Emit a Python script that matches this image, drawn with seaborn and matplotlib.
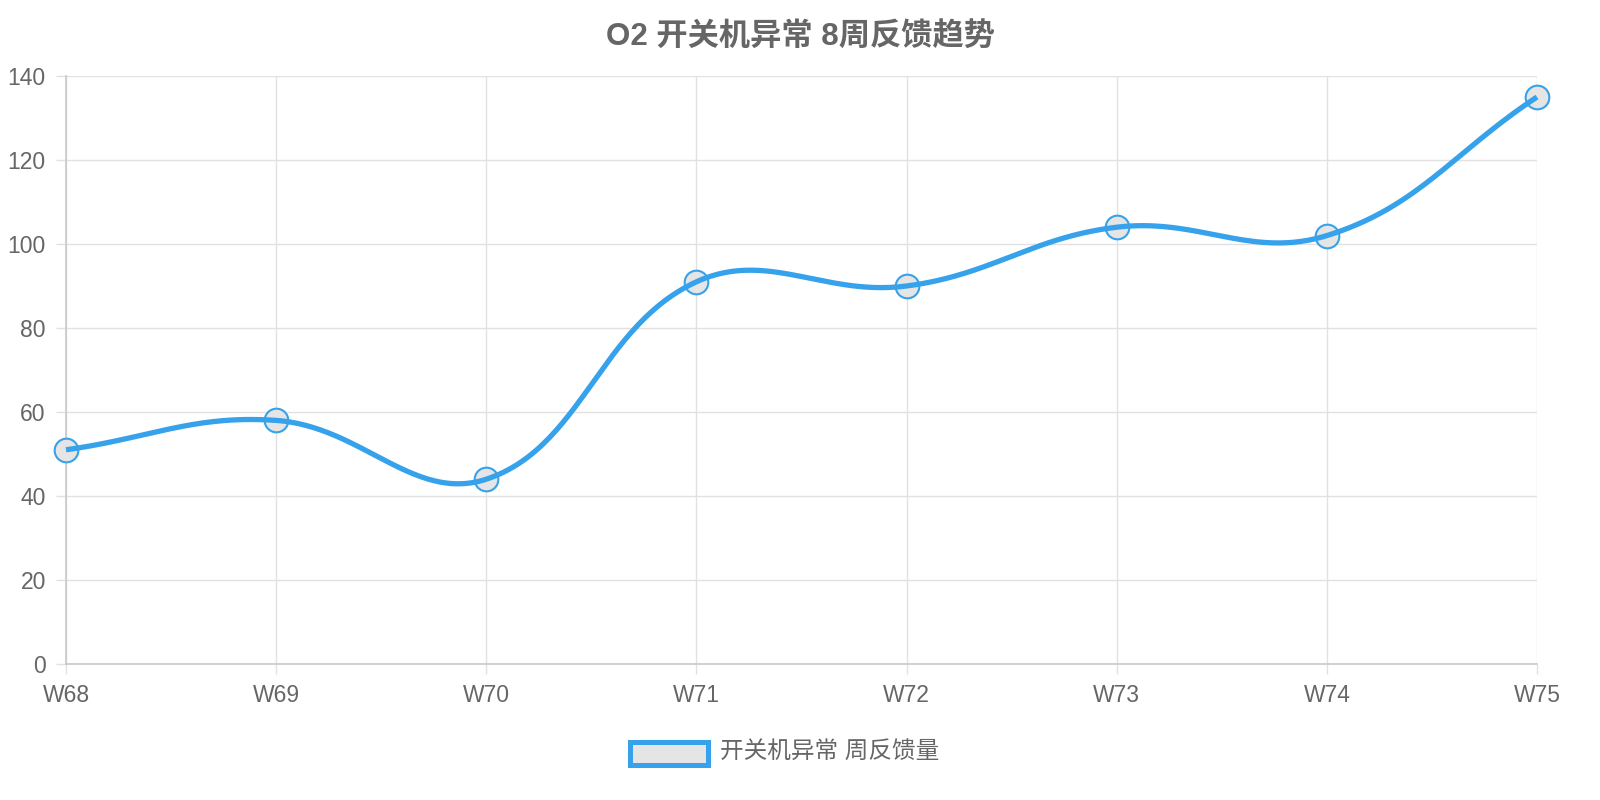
import numpy as np
import pandas as pd
import matplotlib
matplotlib.use("Agg")
import matplotlib.pyplot as plt
import seaborn as sns
from matplotlib.patches import Rectangle

# ==========================================
# DATA
# ==========================================

weeks = ["W68", "W69", "W70", "W71", "W72", "W73", "W74", "W75"]
feedback = [51, 58, 44, 91, 90, 104, 102, 135]

title = "O2 开关机异常 8周反馈趋势"
series_name = "开关机异常 周反馈量"

BLUE = "#36a2eb"
TEXT = "#666666"
GRID = "#e1e1e1"

# ==========================================
# STYLE
# ==========================================

sns.set_style("white")
plt.rcParams["font.family"] = ["Liberation Sans", "Noto Sans CJK SC", "DejaVu Sans"]

fig = plt.figure(figsize=(16, 8), dpi=100)
ax = fig.add_axes([66 / 1600, 1 - 664 / 800, (1537 - 66) / 1600, (664 - 76) / 800])

ymin, ymax = 0, 140
ax.set_xlim(0, len(weeks) - 1)
ax.set_ylim(ymin, ymax)

# ==========================================
# SMOOTH CURVE (chart.js style, tension 0.4)
# ==========================================

x = np.arange(len(weeks), dtype=float)
y = np.array(feedback, dtype=float)

# pixel-space scale for distances
sx = (1537 - 66) / (len(weeks) - 1)
sy = (664 - 76) / (ymax - ymin)
px = x * sx
py = y * sy

tension = 0.4
n = len(x)
c_prev = np.zeros((n, 2))
c_next = np.zeros((n, 2))
for i in range(n):
    p0 = np.array([px[max(i - 1, 0)], py[max(i - 1, 0)]])
    p1 = np.array([px[i], py[i]])
    p2 = np.array([px[min(i + 1, n - 1)], py[min(i + 1, n - 1)]])
    d01 = np.hypot(*(p1 - p0))
    d12 = np.hypot(*(p2 - p1))
    tot = d01 + d12
    s01 = d01 / tot if tot else 0
    s12 = d12 / tot if tot else 0
    c_prev[i] = p1 - tension * s01 * (p2 - p0)
    c_next[i] = p1 + tension * s12 * (p2 - p0)

# cap control points to chart area
c_prev[:, 1] = np.clip(c_prev[:, 1], ymin * sy, ymax * sy)
c_next[:, 1] = np.clip(c_next[:, 1], ymin * sy, ymax * sy)

curve_x, curve_y = [], []
t = np.linspace(0, 1, 60)
for i in range(n - 1):
    P0 = np.array([px[i], py[i]])
    P1 = c_next[i]
    P2 = c_prev[i + 1]
    P3 = np.array([px[i + 1], py[i + 1]])
    pts = ((1 - t) ** 3)[:, None] * P0 + (3 * (1 - t) ** 2 * t)[:, None] * P1 \
        + (3 * (1 - t) * t ** 2)[:, None] * P2 + (t ** 3)[:, None] * P3
    curve_x.extend(pts[:, 0] / sx)
    curve_y.extend(pts[:, 1] / sy)

curve = pd.DataFrame({"x": curve_x, "y": curve_y})
points = pd.DataFrame({"x": x, "y": y})

# ==========================================
# PLOT
# ==========================================

sns.scatterplot(
    data=points, x="x", y="y", ax=ax,
    s=290, color="#e5e5e5", edgecolor=BLUE, linewidth=1.5,
    zorder=3, clip_on=False, legend=False
)

sns.lineplot(
    data=curve, x="x", y="y", ax=ax, sort=False,
    color=BLUE, linewidth=3.8, zorder=4, clip_on=False,
    solid_capstyle="butt", estimator=None
)

ax.set_xticks(x)
ax.set_xticklabels(weeks)
ax.set_yticks(np.arange(0, 141, 20))

ax.grid(True, color=GRID, linewidth=1)
ax.set_axisbelow(True)
for side in ["top", "right"]:
    ax.spines[side].set_visible(False)
for side in ["left", "bottom"]:
    ax.spines[side].set_color("#c8c8c8")
    ax.spines[side].set_linewidth(1.2)

ax.tick_params(
    axis="both", length=7.5, width=1, color=GRID,
    labelsize=16.5, labelcolor=TEXT, pad=7, left=True, bottom=True
)
ax.set_xlabel("")
ax.set_ylabel("")

fig.text(
    0.5, 1 - 38 / 800, title,
    ha="center", va="center", fontsize=22.5, fontweight="bold", color=TEXT
)

# legend
fig.patches.append(Rectangle(
    (630 / 1600, 1 - 765 / 800), 78 / 1600, 23 / 800,
    transform=fig.transFigure, facecolor="#e5e5e5",
    edgecolor=BLUE, linewidth=3.6
))
fig.text(
    720 / 1600, 1 - 752 / 800, series_name,
    ha="left", va="center", fontsize=17, color=TEXT
)

fig.savefig("out.png", dpi=100, facecolor="white")
